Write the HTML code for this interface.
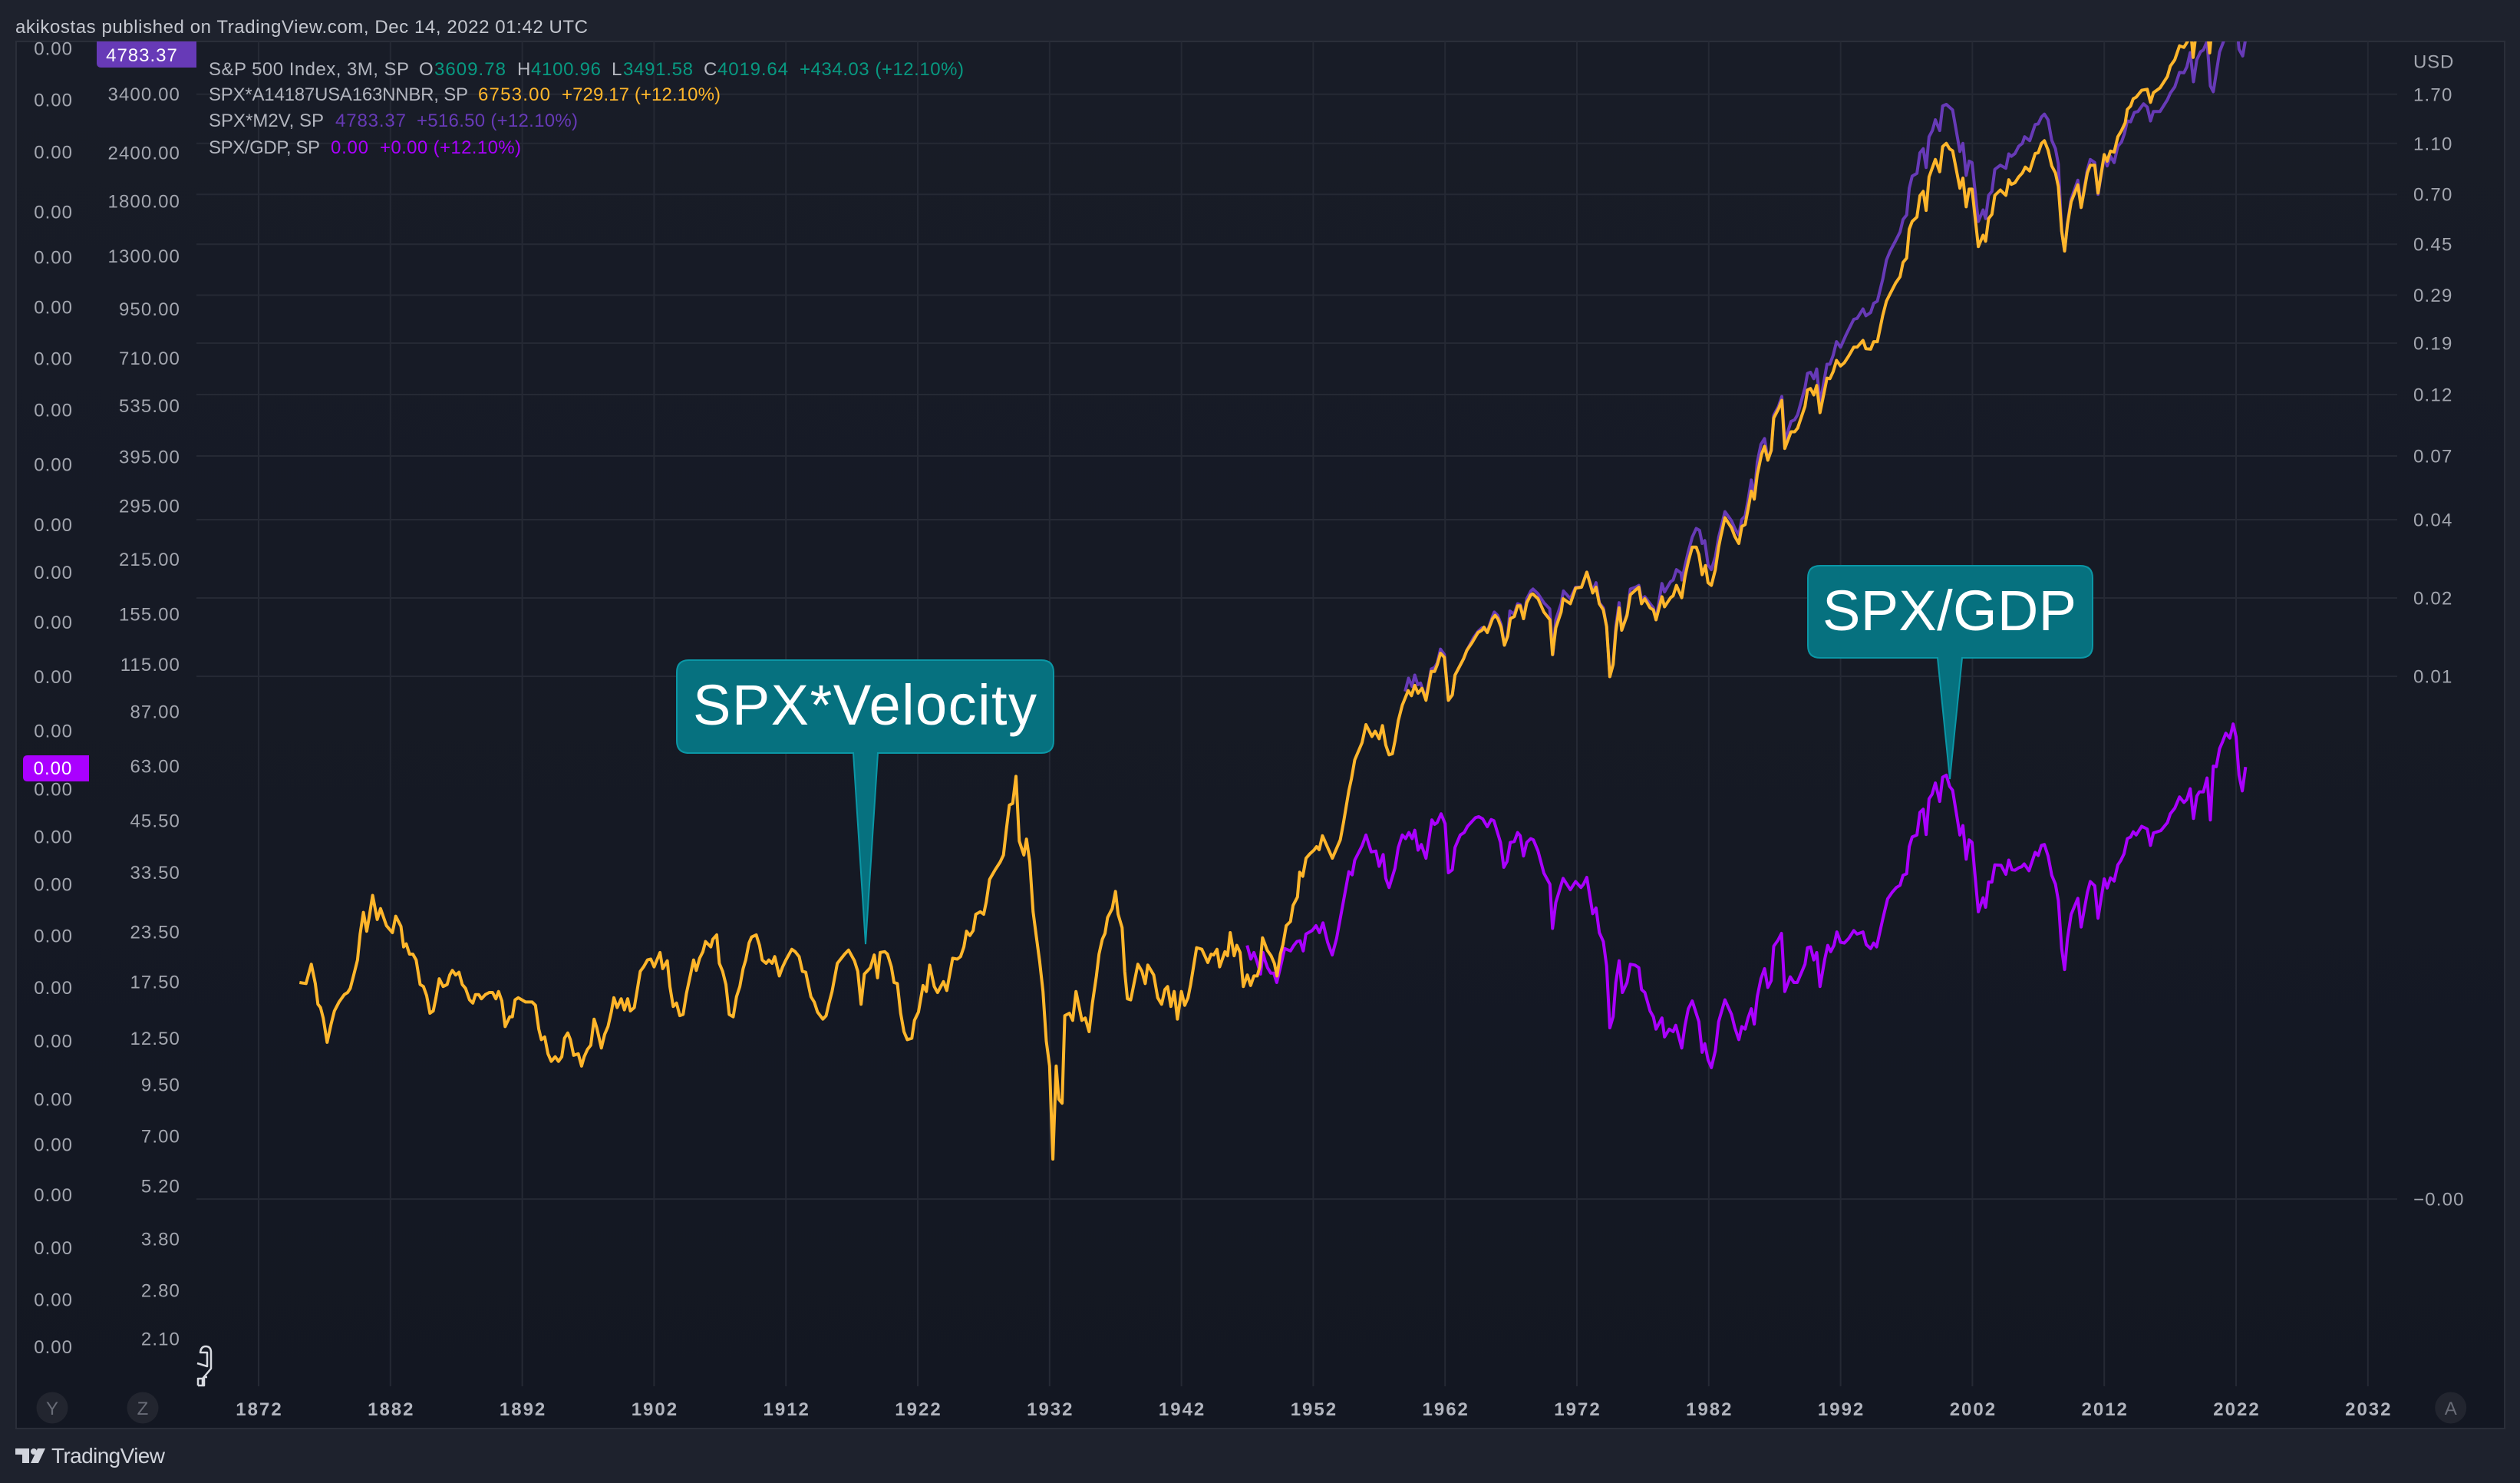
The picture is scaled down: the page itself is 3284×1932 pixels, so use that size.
<!DOCTYPE html>
<html lang="en">
<head>
<meta charset="utf-8">
<title>SPX velocity and SPX/GDP chart</title>
<style>
html,body{margin:0;padding:0;width:3284px;height:1932px;overflow:hidden;background:#1e222d}
svg{display:block;font-family:"Liberation Sans",sans-serif}
</style>
</head>
<body>
<svg id="chart" xmlns="http://www.w3.org/2000/svg" width="3284" height="1932" viewBox="0 0 3284 1932">
  <defs>
    <linearGradient id="paneGradient" x1="0" y1="0" x2="0" y2="1">
      <stop offset="0" stop-color="#181c27"/>
      <stop offset="1" stop-color="#131722"/>
    </linearGradient>
    <clipPath id="plotClip"><rect x="256" y="54" width="2868" height="1751"/></clipPath>
  </defs>
  <rect width="3284" height="1932" fill="#1e222d"/>
  <rect x="21" y="54" width="3243" height="1807" fill="url(#paneGradient)" stroke="#2a2e39" stroke-width="2"/>
  <text x="20" y="43" font-size="24" fill="#c4c7cf" textLength="746">akikostas published on TradingView.com, Dec 14, 2022 01:42 UTC</text>
  <g id="grid"></g>
  <g id="series" clip-path="url(#plotClip)" fill="none" stroke-width="4" stroke-linejoin="round" stroke-linecap="butt"></g>
  <g id="axes" font-size="24"></g>

  <g font-size="24">
    <g>
      <text x="272" y="98" fill="#b2b5be" textLength="261">S&amp;P 500 Index, 3M, SP</text>
      <text x="546" y="98" fill="#b2b5be">O</text>
      <text x="566" y="98" fill="#089981" textLength="93">3609.78</text>
      <text x="674" y="98" fill="#b2b5be">H</text>
      <text x="692" y="98" fill="#089981" textLength="91">4100.96</text>
      <text x="797" y="98" fill="#b2b5be">L</text>
      <text x="812" y="98" fill="#089981" textLength="91">3491.58</text>
      <text x="917" y="98" fill="#b2b5be">C</text>
      <text x="935" y="98" fill="#089981" textLength="92">4019.64</text>
      <text x="1042" y="98" fill="#089981" textLength="214">+434.03 (+12.10%)</text>
    </g>
    <g>
      <text x="272" y="131" fill="#b2b5be" textLength="338">SPX*A14187USA163NNBR, SP</text>
      <text x="623" y="131" fill="#ffb62b" textLength="94">6753.00</text>
      <text x="732" y="131" fill="#ffb62b" textLength="207">+729.17 (+12.10%)</text>
    </g>
    <g>
      <text x="272" y="165" fill="#b2b5be" textLength="150">SPX*M2V, SP</text>
      <text x="437" y="165" fill="#673ab7" textLength="92">4783.37</text>
      <text x="543" y="165" fill="#673ab7" textLength="210">+516.50 (+12.10%)</text>
    </g>
    <g>
      <text x="272" y="200" fill="#b2b5be" textLength="145">SPX/GDP, SP</text>
      <text x="431" y="200" fill="#aa00ff" textLength="49">0.00</text>
      <text x="495" y="200" fill="#aa00ff" textLength="184">+0.00 (+12.10%)</text>
    </g>
  </g>

  <g>
    <path d="M126 54 H256 V88 H132 Q126 88 126 82 Z" fill="#673ab7"/>
    <text x="185" y="80" text-anchor="middle" font-size="24" letter-spacing="1" fill="#ffffff">4783.37</text>
  </g>
  <g>
    <path d="M36 984 H116 V1018 H36 Q30 1018 30 1012 V990 Q30 984 36 984 Z" fill="#aa00ff"/>
    <text x="69" y="1009" text-anchor="middle" font-size="24" letter-spacing="1" fill="#ffffff">0.00</text>
  </g>

  <g>
    <path d="M898 860 H1357 Q1373 860 1373 876 V965 Q1373 981 1357 981 H1144 L1128 1230 L1112 981 H898 Q882 981 882 965 V876 Q882 860 898 860 Z" fill="#06717f" stroke="#0b97a6" stroke-width="2"/>
    <text x="903" y="944" font-size="74" fill="#ffffff" textLength="448">SPX*Velocity</text>
  </g>
  <g>
    <path d="M2372 737 H2711 Q2727 737 2727 753 V841 Q2727 857 2711 857 H2557 L2541 1015 L2525 857 H2372 Q2356 857 2356 841 V753 Q2356 737 2372 737 Z" fill="#06717f" stroke="#0b97a6" stroke-width="2"/>
    <text x="2375" y="821" font-size="74" fill="#ffffff" textLength="331">SPX/GDP</text>
  </g>

  <g>
    <circle cx="68" cy="1834" r="20.5" fill="#22252f"/>
    <text x="68" y="1843" text-anchor="middle" font-size="24" fill="#6a6d78">Y</text>
  </g>
  <g>
    <circle cx="186" cy="1834" r="20.5" fill="#22252f"/>
    <text x="186" y="1843" text-anchor="middle" font-size="24" fill="#6a6d78">Z</text>
  </g>
  <g>
    <circle cx="3193.7" cy="1834" r="20.5" fill="#22252f"/>
    <text x="3193.7" y="1843" text-anchor="middle" font-size="24" fill="#6a6d78">A</text>
  </g>

  <path d="M258 1805 V1796 H264 L275 1783 V1762 Q275 1754 268 1754 Q262 1754 261 1762 H270 V1780 L257 1776 M264 1796 V1805 H258 M270 1794 H266 V1805 H258" fill="none" stroke="#d8dae0" stroke-width="2.5" stroke-linejoin="round"/>

  <g>
    <path d="M20 1887 H38 V1906 H29 V1895 H20 Z M59 1887 L50 1906 H40 L49 1887 Z" fill="#d1d4dc"/>
    <circle cx="44" cy="1891" r="4" fill="#d1d4dc"/>
    <text x="67" y="1906" font-size="28" fill="#d1d4dc" textLength="148">TradingView</text>
  </g>
</svg>

<script>
// ---- tick data ----
const yearTicks = [1872,1882,1892,1902,1912,1922,1932,1942,1952,1962,1972,1982,1992,2002,2012,2022,2032];
const priceTicks = [3400,2400,1800,1300,950,710,535,395,295,215,155,115,87,63,45.5,33.5,23.5,17.5,12.5,9.5,7,5.2,3.8,2.8,2.1];
// SPX/GDP axis ticks, in units of one millionth (all print as 0.00)
const gdpTicks = [4463,3289,2413,1690,1291,960,708,521,377,264,199,148,107,77.6,54.9,41.4,31.2,23,16.9,12.3,8.7,6.65,4.94,3.6,2.65,2];
const rightTicks = [1.7,1.1,0.7,0.45,0.2865,0.1873,0.1188,0.0689,0.0392,0.01958,0.00977,0.0000951];
const rightTickLabels = ['1.70','1.10','0.70','0.45','0.29','0.19','0.12','0.07','0.04','0.02','0.01','\u22120.00'];

// ---- series data: [year, value] ----
const spxVelocity = [
[1875.1,17.4],[1875.6,17.3],[1876.0,19.4],[1876.3,17.3],[1876.5,15.3],[1876.7,15.0],[1876.9,14.1],[1877.2,12.2],[1877.5,13.6],[1877.75,14.7],
[1878.1,15.5],[1878.5,16.2],[1878.75,16.4],[1878.95,16.8],[1879.25,18.4],[1879.5,19.9],[1879.7,23.2],[1879.95,26.4],[1880.2,23.6],[1880.4,25.8],
[1880.65,29.2],[1881.0,25.3],[1881.25,27.0],[1881.7,24.4],[1882.15,23.4],[1882.4,25.8],[1882.8,24.3],[1883.0,21.5],[1883.2,21.9],[1883.45,20.6],
[1883.7,20.6],[1883.95,19.9],[1884.25,17.2],[1884.5,17.0],[1884.75,16.1],[1885.0,14.5],[1885.25,14.7],[1885.45,15.9],[1885.7,17.8],[1886.0,17.0],
[1886.3,17.2],[1886.5,18.2],[1886.7,18.7],[1886.95,18.2],[1887.2,18.5],[1887.45,17.2],[1887.7,16.8],[1888.0,15.7],[1888.25,15.4],[1888.45,16.2],
[1888.7,16.2],[1888.9,15.8],[1889.2,16.2],[1889.5,16.4],[1889.75,16.4],[1890.0,15.8],[1890.2,16.5],[1890.45,15.6],[1890.7,13.4],[1891.05,14.2],
[1891.25,14.2],[1891.45,15.7],[1891.7,15.9],[1892.25,15.5],[1892.75,15.5],[1893.0,15.2],[1893.25,13.2],[1893.45,12.4],[1893.7,12.6],[1893.95,11.4],
[1894.2,10.9],[1894.5,11.2],[1894.75,10.9],[1895.0,11.2],[1895.2,12.5],[1895.45,12.9],[1895.65,12.4],[1895.9,11.3],[1896.25,11.4],[1896.5,10.6],
[1896.7,11.2],[1896.95,11.7],[1897.2,12.0],[1897.45,14.0],[1897.65,13.3],[1898.0,11.8],[1898.25,12.8],[1898.5,13.4],[1898.75,14.6],[1898.95,15.9],
[1899.2,15.0],[1899.5,15.8],[1899.75,14.8],[1900.0,15.8],[1900.2,14.7],[1900.5,15.0],[1900.7,16.5],[1900.95,18.6],[1901.2,19.1],[1901.5,19.9],
[1901.75,20.0],[1902.0,19.1],[1902.45,20.8],[1902.65,18.9],[1903.0,19.8],[1903.2,17.0],[1903.45,15.1],[1903.7,15.4],[1903.95,14.3],[1904.2,14.4],
[1904.45,16.3],[1905.0,19.9],[1905.2,18.7],[1905.45,20.1],[1905.7,20.9],[1905.9,22.2],[1906.3,21.5],[1906.45,22.5],[1906.75,23.1],[1906.95,19.5],
[1907.2,18.6],[1907.45,17.2],[1907.7,14.4],[1908.0,14.2],[1908.25,16.0],[1908.5,17.0],[1908.75,18.9],[1908.95,19.9],[1909.2,22.0],[1909.4,22.8],
[1909.75,23.1],[1910.0,21.7],[1910.2,19.9],[1910.5,19.5],[1910.7,19.9],[1910.95,19.5],[1911.15,20.3],[1911.5,18.1],[1911.75,19.1],[1912.0,19.9],
[1912.45,21.2],[1912.7,20.9],[1913.0,20.3],[1913.25,18.6],[1913.5,18.5],
[1913.9,16.0],[1914.15,15.5],[1914.4,14.6],[1914.8,14.0],[1915.05,14.3],[1915.25,15.3],[1915.5,16.5],[1915.9,19.5],[1916.45,20.6],[1916.75,21.1],
[1917.2,19.8],[1917.45,18.6],[1917.7,15.3],[1917.95,18.3],[1918.4,19.0],[1918.7,20.5],[1918.95,17.9],[1919.15,20.8],[1919.5,20.9],[1919.7,20.6],
[1920.0,19.1],[1920.2,17.4],[1920.45,17.3],[1920.7,14.5],[1920.95,13.0],[1921.2,12.4],[1921.55,12.5],[1921.75,13.9],[1922.05,14.6],[1922.4,17.1],
[1922.65,16.5],[1922.9,19.3],[1923.25,17.0],[1923.5,16.4],[1923.95,17.5],[1924.2,16.6],[1924.65,20.1],[1925.0,20.0],[1925.25,20.3],[1925.5,21.5],
[1925.7,23.6],[1925.95,23.0],[1926.2,23.7],[1926.4,26.1],[1926.75,26.5],[1927.0,26.1],[1927.2,28.1],[1927.45,32.1],[1927.85,33.9],[1928.25,35.6],
[1928.5,37.1],[1928.7,42.6],[1928.95,49.9],[1929.2,50.4],[1929.45,59.2],[1929.7,40.3],[1930.05,37.1],[1930.25,40.8],[1930.5,35.6],[1930.75,26.5],
[1931.0,22.8],[1931.25,19.7],[1931.5,16.5],[1931.75,12.3],[1932.0,10.6],[1932.25,6.1],[1932.5,10.6],[1932.7,8.7],[1932.95,8.5],[1933.15,14.3],
[1933.5,14.5],[1933.75,13.9],[1934.0,16.5],[1934.45,13.9],[1934.7,14.1],[1935.0,13.0],[1935.25,15.4],[1935.55,18.1],[1935.75,20.6],[1936.0,22.5],
[1936.2,23.3],[1936.4,25.6],[1936.75,27.0],[1937.0,29.9],[1937.2,26.1],[1937.5,24.1],[1937.7,18.6],[1937.9,15.8],[1938.15,15.7],[1938.7,19.4],
[1939.0,18.6],[1939.25,17.3],[1939.45,19.3],[1939.9,18.2],[1940.2,15.9],[1940.5,15.3],[1940.75,16.7],[1940.95,17.0],[1941.2,15.1],[1941.45,16.5],
[1941.7,14.0],[1942.0,16.5],[1942.25,15.2],[1942.5,15.9],[1942.7,17.2],[1943.15,21.4],[1943.55,21.2],[1944.0,19.6],[1944.25,20.6],[1944.45,20.5],
[1944.7,21.2],[1944.9,19.1],[1945.3,20.9],[1945.5,20.4],[1945.7,23.4],[1946.0,20.4],[1946.2,21.7],[1946.45,20.8],[1946.7,17.0],[1947.0,18.2],
[1947.25,17.1],[1947.5,18.1],[1947.75,18.1],[1947.95,19.1],[1948.15,22.7],[1948.5,21.1],[1948.8,20.4],[1949.05,19.5],[1949.25,18.1],[1949.5,20.6],
[1949.7,21.8],[1949.95,24.4],
[1950.27,25],[1950.47,27.5],[1950.8,28.9],[1950.97,33.5],[1951.2,32.7],[1951.45,36.4],[1951.75,37.4],[1952.05,38.2],[1952.25,39],[1952.45,38.3],
[1952.7,41.6],[1953.45,36.4],[1954.05,40.6],[1954.3,45.1],[1954.7,54.4],[1954.9,58.4],[1955.15,65.3],[1955.7,72.3],[1956.0,80.5],[1956.45,75],
[1956.7,77.4],[1957.0,74],[1957.25,80],[1957.5,71.3],[1957.75,67.3],[1958.0,67.7],[1958.2,73],[1958.45,82.4],[1958.75,90.3],[1959.2,98.5],
[1959.45,95.6],[1959.7,101.6],[1959.95,97],[1960.25,99.8],[1960.55,93],[1960.95,110.4],[1961.2,110.4],[1961.4,114.7],[1961.65,123],[1961.95,120],
[1962.25,93],[1962.55,96],[1962.75,108],[1963.4,119],[1963.65,125],[1964.05,131],[1964.5,139],[1964.8,141],[1964.95,143.5],[1965.2,139],
[1965.6,151],[1965.8,154],[1966.0,151],[1966.25,143.5],[1966.5,129],[1966.75,136],[1966.95,151],[1967.25,153],[1967.5,163],[1967.7,163],
[1967.95,151],[1968.2,166],[1968.5,174],[1968.65,175],[1969.05,170],[1969.5,157],[1969.95,150],[1970.15,122],[1970.4,143],[1970.8,157],
[1970.95,170],[1971.5,165],[1971.9,181],[1972.35,182],[1972.75,199],[1973.2,176],[1973.45,182],[1973.7,165],[1974.0,159],[1974.25,144],
[1974.5,107],[1974.75,115],[1974.95,140],[1975.2,161],[1975.4,141],[1975.8,154],[1976.05,174],[1976.45,179],[1976.7,182],[1976.9,165],
[1977.15,170],[1977.55,161],[1977.8,159],[1978.0,150],[1978.45,172],[1978.65,162],[1979.1,171],[1979.3,173],[1979.55,184],[1979.95,171],
[1980.2,194],[1980.45,212],[1980.75,231],[1981.05,231],[1981.25,221],[1981.5,196],[1981.75,207],[1981.95,187],[1982.2,184],[1982.5,202],
[1982.75,231],[1982.9,245],[1983.23,275],[1983.73,259],[1983.98,246],[1984.28,236],[1984.51,261],[1984.76,264],[1984.98,289],
[1985.23,322],[1985.45,307],[1985.68,355],[1986.0,400],[1986.23,420],[1986.48,387],[1986.74,410],[1986.93,497],[1987.29,525],[1987.54,552],
[1987.77,415],[1988.24,458],[1988.52,458],[1988.74,468],[1989.3,533],[1989.49,587],[1989.72,592],[1989.97,570],[1990.19,603],[1990.44,513],
[1990.97,630],[1991.19,628],[1991.44,655],[1991.69,700],[1992.0,677],[1992.28,690],[1992.61,718],[1993.0,757],[1993.25,757],[1993.7,788],
[1993.92,750],[1994.28,748],[1994.51,782],[1994.79,782],[1995.2,915],[1995.48,995],[1995.76,1040],[1996.18,1108],[1996.51,1150],[1996.74,1252],
[1997.01,1285],[1997.21,1525],[1997.43,1597],[1997.79,1640],[1998.02,1860],[1998.27,1909],[1998.49,1705],[1998.71,2080],[1999.19,2308],[1999.52,2145],
[1999.74,2490],[2000.02,2539],[2000.27,2457],[2000.5,2430],[2001.05,1945],[2001.28,2065],[2001.53,1742],[2001.75,1935],[2001.97,1935],[2002.45,1375],
[2002.81,1472],[2003.0,1420],[2003.23,1625],[2003.48,1665],[2003.7,1865],[2004.12,1925],[2004.54,1865],[2004.76,2045],[2004.95,1990],[2005.23,2010],
[2005.51,2080],[2005.79,2130],[2006.01,2205],[2006.35,2155],[2006.76,2390],[2006.99,2400],[2007.24,2539],[2007.46,2580],[2007.74,2440],[2008.02,2220],
[2008.3,2130],[2008.52,1965],[2008.77,1510],[2008.99,1340],[2009.21,1570],[2009.49,1795],[2010.0,1985],[2010.25,1735],[2010.72,2130],[2010.94,2230],
[2011.28,2230],[2011.53,1890],[2012.0,2375],[2012.22,2285],[2012.47,2425],[2012.75,2410],[2013.03,2640],[2013.31,2740],[2013.59,2870],[2013.75,3105],
[2014.0,3170],[2014.2,3310],[2014.42,3340],[2014.84,3480],[2015.26,3500],[2015.51,3240],[2015.73,3430],[2016.23,3530],[2016.79,3775],[2017.01,4015],
[2017.35,4170],[2017.71,4530],[2018.04,4490],[2018.32,4650],[2018.55,5000],[2018.74,4230],[2019.0,5000],[2019.5,5300],[2019.75,5300],[2020.0,4345],
[2020.25,5400],[2020.5,6100],[2020.75,7000],[2021.0,8000],[2021.5,9000],[2021.75,9500],[2022.0,7500],[2022.25,6000],[2022.5,6024],[2022.75,6753]
];

const spxM2v = [
[1958.97,98],[1959.23,106],[1959.49,101],[1959.7,108],[1959.93,102],[1960.14,103],[1960.53,94],[1960.95,112],[1961.2,113],[1961.4,116],
[1961.65,126],[1961.95,122],[1962.25,93],[1962.55,96],[1962.75,108],[1963.4,119],[1963.65,125],[1964.17,135],[1964.5,140],[1964.8,143],
[1965.2,140],[1965.6,153],[1965.73,157],[1965.99,154],[1966.25,146],[1966.5,129],[1966.75,137],[1966.92,158],[1967.24,155],[1967.5,165],
[1967.7,164],[1967.96,151],[1968.2,170],[1968.51,178],[1968.67,180],[1969.05,175],[1969.5,166],[1969.94,160],[1970.17,122],[1970.4,150],
[1970.8,165],[1970.98,178],[1971.5,170],[1971.9,182],[1972.35,182],[1972.75,199],[1973.2,178],[1973.45,187],[1973.7,166],[1974.0,161],
[1974.25,144],[1974.5,107],[1974.75,116],[1974.95,144],[1975.2,166],[1975.4,141],[1975.8,155],[1976.05,180],[1976.45,182],[1976.7,184],
[1976.9,169],[1977.15,172],[1977.55,165],[1977.8,161],[1978.0,150],[1978.45,186],[1978.65,177],[1979.1,188],[1979.3,190],[1979.55,202],
[1979.9,198],[1979.97,190],[1980.2,207],[1980.45,225],[1980.75,245],[1981.05,258],[1981.3,255],[1981.5,236],[1981.7,240],[1981.95,208],
[1982.2,202],[1982.5,218],[1982.75,245],[1983.23,285],[1983.73,270],[1983.98,258],[1984.28,248],[1984.51,272],[1984.76,278],[1984.98,305],
[1985.23,344],[1985.45,312],[1985.68,382],[1985.96,425],[1986.23,440],[1986.48,388],[1986.74,410],[1986.93,505],[1987.29,533],[1987.54,565],
[1987.77,433],[1988.24,487],[1988.52,492],[1988.74,507],[1989.3,595],[1989.49,648],[1989.72,652],[1989.97,628],[1990.19,665],[1990.44,541],
[1990.97,684],[1991.19,684],[1991.44,722],[1991.69,782],[1992.0,757],[1992.42,815],[1992.61,840],[1993.0,893],[1993.25,898],[1993.7,950],
[1993.92,912],[1994.28,930],[1994.51,982],[1994.79,995],[1995.2,1135],[1995.48,1270],[1995.76,1340],[1996.18,1425],[1996.51,1500],[1996.74,1615],
[1997.01,1660],[1997.21,1945],[1997.43,2090],[1997.79,2125],[1998.02,2400],[1998.27,2460],[1998.49,2200],[1998.71,2640],[1998.96,2740],[1999.19,2920],
[1999.52,2740],[1999.74,3170],[2000.02,3200],[2000.5,3095],[2001.05,2420],[2001.28,2539],[2001.53,2099],[2001.75,2285],[2001.97,2265],[2002.45,1597],
[2002.81,1710],[2003.0,1625],[2003.23,1865],[2003.48,1909],[2003.7,2175],[2004.12,2230],[2004.54,2190],[2004.76,2385],[2004.95,2350],[2005.23,2390],
[2005.51,2495],[2005.79,2539],[2005.96,2640],[2006.35,2580],[2006.76,2840],[2006.99,2850],[2007.24,2970],[2007.46,3020],[2007.74,2920],[2008.02,2585],
[2008.3,2460],[2008.52,2245],[2008.77,1510],[2008.99,1340],[2009.21,1582],[2009.49,1825],[2010.0,2040],[2010.25,1735],[2010.72,2170],[2010.94,2307],
[2011.28,2265],[2011.53,1875],[2012.0,2350],[2012.22,2220],[2012.47,2350],[2012.75,2265],[2013.03,2495],[2013.31,2560],[2013.53,2690],[2013.75,2900],
[2014.0,2885],[2014.28,3050],[2014.56,3068],[2014.98,3210],[2015.26,3150],[2015.51,2900],[2015.73,3068],[2016.23,3068],[2016.79,3290],[2017.01,3420],
[2017.35,3550],[2017.71,3870],[2018.04,3860],[2018.27,4000],[2018.52,4350],[2018.77,3660],[2019.02,4170],[2019.3,4370],[2019.52,4420],[2019.8,4650],
[2020.05,3570],[2020.27,3450],[2020.75,4370],[2021.05,4650],[2021.25,5000],[2021.5,5600],[2021.78,6000],[2022.0,5400],[2022.22,4440],[2022.5,4267],[2022.75,4783]
];

// SPX/GDP in units of one millionth
const spxGdp = [
[1946.98,21.7],[1947.27,20],[1947.5,20.8],[1947.75,19.6],[1948.0,18.3],[1948.18,20.8],[1948.33,19.9],[1948.53,19],[1948.78,18.4],[1949.01,18.4],
[1949.23,17.4],[1949.5,19],[1949.83,21.3],[1950.27,21],[1950.53,21.7],[1950.76,22.2],[1951.0,22.3],[1951.24,21],[1951.44,23.2],[1951.92,23.7],
[1952.21,24.4],[1952.47,23.4],[1952.74,24.8],[1953.09,22.1],[1953.44,20.5],[1953.77,22.6],[1954.3,28.3],[1954.7,33.6],[1954.95,33],[1955.15,36],
[1955.7,39.2],[1956.0,41.8],[1956.4,37.8],[1956.75,38],[1957.0,34.7],[1957.3,37.2],[1957.5,32.3],[1957.75,30.6],[1958.2,34.3],[1958.45,38.8],
[1958.75,41.8],[1959.0,40.9],[1959.25,42.4],[1959.5,40.9],[1959.7,43],[1959.95,38.2],[1960.2,39.5],[1960.55,36.4],[1961.0,45.7],[1961.2,44.5],
[1961.4,45],[1961.7,47.4],[1962.0,44.7],[1962.25,33.4],[1962.55,34],[1962.75,38.8],[1963.15,41.8],[1963.45,42.4],[1963.7,44],[1964.3,46.3],
[1964.55,46.6],[1964.85,46],[1965.2,43.9],[1965.5,45.8],[1965.7,45.5],[1966.2,40],[1966.45,34.5],[1966.7,35.7],[1966.95,40],[1967.25,40.2],
[1967.5,42.4],[1967.7,41.6],[1967.95,36.9],[1968.2,40],[1968.5,40.9],[1968.7,40.6],[1969.05,38],[1969.5,33.3],[1969.95,31.2],[1970.15,24],
[1970.4,28],[1970.95,32.3],[1971.5,30.2],[1971.9,31.7],[1972.3,30.6],[1972.5,31.2],[1972.75,32.5],[1973.2,26.2],[1973.45,27.1],[1973.7,23.4],
[1974.0,22.2],[1974.25,19.2],[1974.5,13.3],[1974.75,14.2],[1974.95,17.4],[1975.2,19.8],[1975.45,16.4],[1975.8,17.4],[1976.05,19.4],[1976.4,19.3],
[1976.7,19],[1976.9,16.7],[1977.15,16.4],[1977.55,14.7],[1977.8,14.2],[1978.0,13.2],[1978.45,14.1],[1978.65,12.6],[1979.0,13.2],[1979.3,13],
[1979.5,13.5],[1979.95,11.8],[1980.2,13.5],[1980.45,14.9],[1980.75,15.6],[1981.25,13.8],[1981.5,11.5],[1981.7,12.1],[1981.95,11],[1982.2,10.5],
[1982.5,11.6],[1982.75,13.8],[1983.23,15.7],[1983.73,14.4],[1983.98,13.3],[1984.28,12.4],[1984.51,13.4],[1984.76,13.2],[1984.98,14.1],[1985.23,14.9],
[1985.45,13.6],[1985.68,16],[1985.96,17.8],[1986.23,18.9],[1986.48,16.9],[1986.74,17.6],[1986.93,21.6],[1987.26,22.4],[1987.52,23.3],[1987.77,16.5],
[1988.18,18],[1988.46,17.4],[1988.71,17.4],[1989.3,19.4],[1989.49,21.4],[1989.72,21.5],[1989.97,19.9],[1990.19,20.8],[1990.44,17],[1990.8,20],
[1991.03,21.7],[1991.25,20.9],[1991.5,21.7],[1991.72,23.5],[1992.0,22.1],[1992.28,22],[1992.61,22.6],[1993.0,23.7],[1993.25,23.2],[1993.7,23.5],
[1993.95,21.8],[1994.28,21.3],[1994.51,22],[1994.73,21.5],[1995.2,25.4],[1995.57,28.6],[1995.9,29.7],[1996.23,30.6],[1996.51,31],[1996.74,32.9],
[1997.01,33.2],[1997.21,39],[1997.43,41.3],[1997.79,41.8],[1998.02,47.8],[1998.27,48.7],[1998.49,41.9],[1998.71,51.8],[1998.94,53.2],[1999.19,56.9],
[1999.52,51],[1999.74,58.9],[2000.02,59.6],[2000.27,55.8],[2000.5,54.5],[2001.05,41.8],[2001.28,44.2],[2001.53,36.2],[2001.75,40.6],[2001.97,40],
[2002.45,26.5],[2002.81,28.8],[2003.0,27.2],[2003.23,31.6],[2003.48,31.6],[2003.7,35],[2004.17,34.9],[2004.54,33.1],[2004.76,36],[2005.0,34],
[2005.23,33.9],[2005.51,34.4],[2005.73,34.6],[2005.93,35.2],[2006.29,33.8],[2006.76,37.7],[2006.99,37],[2007.24,39.3],[2007.46,39.5],[2007.74,36.9],
[2008.02,32.9],[2008.3,31.2],[2008.52,28.3],[2008.77,21.3],[2008.99,18.8],[2009.21,22.6],[2009.49,26.1],[2010.0,28.7],[2010.25,24.2],[2010.72,29.7],
[2010.94,31.7],[2011.28,30.9],[2011.53,25.5],[2012.0,32.2],[2012.22,30.5],[2012.47,32.4],[2012.75,31.8],[2013.03,35],[2013.25,35.9],[2013.5,37.4],
[2013.75,40.9],[2014.0,41.3],[2014.2,42.6],[2014.42,41.8],[2014.84,44],[2015.26,43.3],[2015.51,39.3],[2015.73,42.3],[2016.29,42.9],[2016.79,45],
[2017.01,47.4],[2017.35,49],[2017.71,52.4],[2018.04,50.7],[2018.27,51.6],[2018.52,55],[2018.77,46.1],[2019.02,52.6],[2019.21,54],[2019.52,54],
[2019.8,58.6],[2020.05,45.7],[2020.27,62.9],[2020.5,62.7],[2020.75,69.8],[2020.97,72.6],[2021.22,76.5],[2021.53,74.3],[2021.78,80.8],[2022.0,74.9],
[2022.22,59.6],[2022.47,54.3],[2022.72,62.6]
];

// ---- axis functions ----
function xYear(year){ return 337 + (year - 1872) * 17.18; }
function yPrice(v){ return 122.7 + 219.4 * Math.log(3400 / v); }
function yGdp(v){ return 122.7 + 219.4 * Math.log(3400 / v); }
function yRight(v){ return 122.8 + 147 * Math.log(1.7 / v); }

const NS = 'http://www.w3.org/2000/svg';
const grid = document.getElementById('grid');
const axes = document.getElementById('axes');
const seriesGroup = document.getElementById('series');

function makeLine(x1, y1, x2, y2, name){
  const el = document.createElementNS(NS, 'line');
  
  
  el.setAttribute('x1', x1);
  el.setAttribute('y1', y1);
  el.setAttribute('x2', x2);
  el.setAttribute('y2', y2);
  el.setAttribute('stroke', '#252934');
  el.setAttribute('stroke-width', '2');
  grid.appendChild(el);
}
function makeLabel(str, x, y, anchor, fill, spacing, name, weight){
  const el = document.createElementNS(NS, 'text');
  
  
  el.setAttribute('x', x);
  el.setAttribute('y', y);
  el.setAttribute('text-anchor', anchor);
  el.setAttribute('fill', fill);
  el.setAttribute('letter-spacing', spacing);
  if (weight) el.setAttribute('font-weight', weight);
  el.textContent = str;
  axes.appendChild(el);
}

yearTicks.forEach(function(t){
  makeLine(xYear(t), 54, xYear(t), 1806, 'grid-line-' + t);
  makeLabel(String(t), xYear(t) + 1, 1844, 'middle', '#b2b5be', '2', 'x-tick-' + t, 'bold');
});
rightTicks.forEach(function(v, i){
  makeLine(256, yRight(v), 3124, yRight(v), 'grid-line-right-' + i);
  makeLabel(rightTickLabels[i], 3145, yRight(v) + 8.5, 'start', '#a3a6af', '1.2', 'right-axis-tick-' + i);
});
priceTicks.forEach(function(v, i){
  makeLabel(v.toFixed(2), 235, yPrice(v) + 8.5, 'end', '#a3a6af', '1.1', 'price-axis-tick-' + i);
});
gdpTicks.forEach(function(v, i){
  makeLabel((v / 1e6).toFixed(2), 95, yGdp(v) + 8.5, 'end', '#a3a6af', '1', 'gdp-axis-tick-' + i);
});
makeLabel('USD', 3145, 88.5, 'start', '#a3a6af', '0.8', 'currency-label');

function drawSeries(data, yFn, colour, name){
  let d = '';
  data.forEach(function(p, i){
    d += (i ? 'L' : 'M') + xYear(p[0]).toFixed(1) + ' ' + yFn(p[1]).toFixed(1);
  });
  const el = document.createElementNS(NS, 'path');
  
  
  el.setAttribute('d', d);
  el.setAttribute('stroke', colour);
  seriesGroup.appendChild(el);
}
drawSeries(spxGdp, yGdp, '#aa00ff', 'series-spx-gdp');
drawSeries(spxM2v, yPrice, '#673ab7', 'series-spx-m2v');
drawSeries(spxVelocity, yPrice, '#ffb62b', 'series-spx-velocity');
</script>
</body>
</html>
